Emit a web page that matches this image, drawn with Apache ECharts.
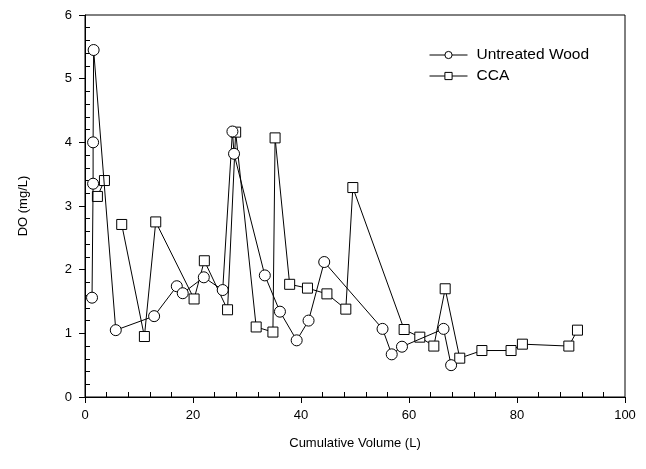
<!DOCTYPE html>
<html>
<head>
<meta charset="utf-8">
<script src="https://cdn.jsdelivr.net/npm/echarts@6/dist/echarts.min.js"></script>
<style>
  html, body { margin: 0; padding: 0; background: #fff; }
  #chart { width: 646px; height: 469px; }
</style>
</head>
<body>
<div id="chart"></div>
<script>
// Dissolved oxygen against cumulative volume, two wood treatments
const untreatedVolume = [1.3, 1.5, 1.5, 1.6, 5.7, 12.8, 17.0, 18.1, 22.0, 25.5, 27.3, 27.6, 33.3, 36.1, 39.2, 41.4, 44.3, 55.1, 56.8, 58.7, 66.4, 67.8];
const untreatedDO     = [1.56, 3.35, 4.00, 5.45, 1.05, 1.27, 1.74, 1.63, 1.88, 1.68, 4.17, 3.82, 1.91, 1.34, 0.89, 1.20, 2.12, 1.07, 0.67, 0.79, 1.07, 0.50];

// null marks the break in the CCA trace after the first two samples
const ccaVolume = [2.3, 3.6, null, 6.8, 11.0, 13.1, 20.2, 22.1, 26.4, 27.9, 31.7, 34.8, 35.2, 37.9, 41.2, 44.8, 48.3, 49.6, 59.1, 62.0, 64.6, 66.7, 69.4, 73.5, 78.9, 81.0, 89.6, 91.2];
const ccaDO     = [3.15, 3.40, null, 2.71, 0.95, 2.75, 1.54, 2.14, 1.37, 4.16, 1.10, 1.02, 4.07, 1.77, 1.71, 1.62, 1.38, 3.29, 1.06, 0.94, 0.80, 1.70, 0.61, 0.73, 0.73, 0.83, 0.80, 1.05];

const xTicks = [0, 20, 40, 60, 80, 100];
const yTicks = [0, 1, 2, 3, 4, 5, 6];

function pairs(xs, ys) {
  return xs.map((x, i) => (x === null || ys[i] === null) ? [null, null] : [x, ys[i]]);
}

const font = 'Liberation Sans, Arial, sans-serif';
const ink = '#000';

const chart = echarts.init(document.getElementById('chart'), null, { renderer: 'canvas' });

chart.setOption({
  animation: false,
  backgroundColor: '#fff',
  textStyle: { fontFamily: font, color: ink },
  grid: {
    left: 85, right: 21, top: 15, bottom: 72,
    show: true, borderColor: ink, borderWidth: 1, backgroundColor: 'transparent'
  },
  legend: {
    orient: 'vertical',
    left: 424, top: 42,
    itemWidth: 38, itemHeight: 9, itemGap: 5,
    lineStyle: { width: 1 },
    itemStyle: { borderWidth: 1 },
    textStyle: { fontFamily: font, fontSize: 15.5, color: ink, padding: [0, 0, 0, 4] },
    data: ['Untreated Wood', 'CCA']
  },
  xAxis: {
    type: 'value',
    min: xTicks[0], max: xTicks[xTicks.length - 1], interval: 20,
    name: 'Cumulative Volume (L)',
    nameLocation: 'middle', nameGap: 40,
    nameTextStyle: { fontFamily: font, fontSize: 13, color: ink },
    axisLine: { show: true, onZero: false, lineStyle: { color: ink, width: 1 } },
    axisTick: { show: true, inside: false, length: 6, lineStyle: { color: ink } },
    minorTick: { show: true, splitNumber: 5, length: -5, lineStyle: { color: ink } },
    axisLabel: { fontFamily: font, fontSize: 13, color: ink, margin: 12 },
    splitLine: { show: false }
  },
  yAxis: {
    type: 'value',
    min: yTicks[0], max: yTicks[yTicks.length - 1], interval: 1,
    name: 'DO (mg/L)',
    nameLocation: 'middle', nameGap: 55, nameRotate: 90,
    nameTextStyle: { fontFamily: font, fontSize: 13, color: ink },
    axisLine: { show: true, onZero: false, lineStyle: { color: ink, width: 1 } },
    axisTick: { show: true, inside: false, length: 6, lineStyle: { color: ink } },
    minorTick: { show: true, splitNumber: 5, length: -5, lineStyle: { color: ink } },
    axisLabel: { fontFamily: font, fontSize: 13, color: ink, margin: 13 },
    splitLine: { show: false }
  },
  series: [
    {
      name: 'Untreated Wood',
      type: 'line',
      data: pairs(untreatedVolume, untreatedDO),
      symbol: 'circle', symbolSize: 11,
      showAllSymbol: true,
      lineStyle: { color: ink, width: 1 },
      itemStyle: { color: '#fff', borderColor: ink, borderWidth: 1 },
      z: 3
    },
    {
      name: 'CCA',
      type: 'line',
      data: pairs(ccaVolume, ccaDO),
      connectNulls: false,
      symbol: 'rect', symbolSize: 10,
      showAllSymbol: true,
      lineStyle: { color: ink, width: 1 },
      itemStyle: { color: '#fff', borderColor: ink, borderWidth: 1 },
      z: 2
    }
  ]
});
</script>
</body>
</html>
